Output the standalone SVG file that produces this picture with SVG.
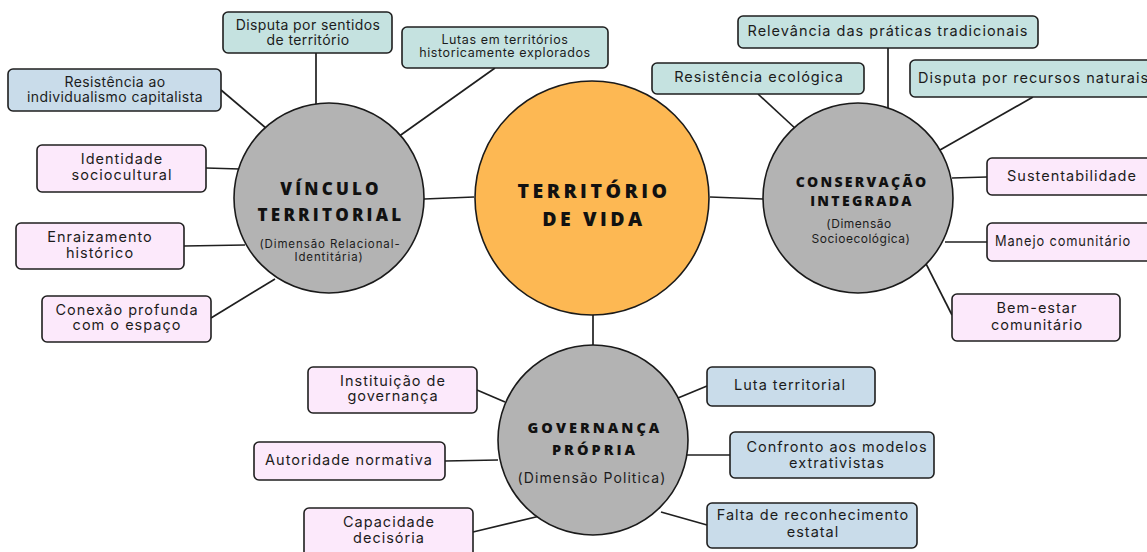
<svg xmlns="http://www.w3.org/2000/svg" width="1147" height="552" viewBox="0 0 1147 552">
<style>
.bg{fill:#ffffff}
.box{stroke:#1f1f1f;stroke-width:1.6}
.teal{fill:#c5e2e0}
.blue{fill:#c9dcea}
.pink{fill:#fce9fb}
.hub{fill:#b3b3b3;stroke:#1a1a1a;stroke-width:1.6}
.core{fill:#fdb853;stroke:#1a1a1a;stroke-width:1.6}
.t{font-family:Inter,"Open Sans",sans-serif;font-size:14.5px;fill:#1c1c1c;text-anchor:middle;letter-spacing:1px}
.n{font-size:14px;letter-spacing:0.4px}
.ts{font-size:12.5px;letter-spacing:0.6px}
.tl{text-anchor:start}
.h{font-family:"Open Sans",Lato,sans-serif;font-weight:800;fill:#111;text-anchor:middle}
.sub{font-family:Inter,"Open Sans",sans-serif;fill:#1c1c1c;text-anchor:middle}
#connectors line{stroke:#1f1f1f;stroke-width:1.7}
</style>
<rect class="bg" x="0" y="0" width="1147" height="552"/>
<g id="connectors">
<line x1="424" y1="199" x2="474" y2="197"/>
<line x1="710" y1="197" x2="763" y2="199"/>
<line x1="593" y1="313" x2="593" y2="345"/>
<line x1="316" y1="53" x2="316" y2="104"/>
<line x1="221" y1="90" x2="267" y2="129"/>
<line x1="495" y1="68" x2="398" y2="137"/>
<line x1="206" y1="168" x2="240" y2="169"/>
<line x1="184" y1="246" x2="245" y2="245"/>
<line x1="211" y1="318" x2="275" y2="279"/>
<line x1="888" y1="48" x2="888" y2="108"/>
<line x1="758" y1="94" x2="797" y2="130"/>
<line x1="1033" y1="97" x2="940" y2="150"/>
<line x1="952" y1="178" x2="987" y2="177"/>
<line x1="945" y1="242" x2="987" y2="242"/>
<line x1="918" y1="248" x2="952" y2="315"/>
<line x1="477" y1="390" x2="505" y2="402"/>
<line x1="445" y1="461" x2="498" y2="460"/>
<line x1="473" y1="532" x2="540" y2="516"/>
<line x1="678" y1="398" x2="707" y2="386"/>
<line x1="687" y1="455" x2="730" y2="455"/>
<line x1="661" y1="512" x2="707" y2="525"/>
</g>
<g id="territorio">
<circle class="core" cx="592" cy="198" r="117"/>
<text class="h" x="594" y="198" font-size="19.5" letter-spacing="3.5">TERRITÓRIO</text>
<text class="h" x="594" y="226" font-size="19.5" letter-spacing="3.5">DE VIDA</text>
</g>
<g id="vinculo">
<circle class="hub" cx="329" cy="198" r="95"/>
<text class="h" x="331" y="195" font-size="17" letter-spacing="3.2">VÍNCULO</text>
<text class="h" x="331" y="221" font-size="17" letter-spacing="3.2">TERRITORIAL</text>
<text class="sub" x="330" y="248" font-size="11.5" letter-spacing="0.9">(Dimensão Relacional-</text>
<text class="sub" x="329" y="261" font-size="11.5" letter-spacing="0.9">Identitária)</text>
</g>
<g id="conservacao">
<circle class="hub" cx="858" cy="198" r="95"/>
<text class="h" x="862" y="187" font-size="14" letter-spacing="2.3">CONSERVAÇÃO</text>
<text class="h" x="862" y="206" font-size="14" letter-spacing="2.3">INTEGRADA</text>
<text class="sub" x="859" y="228" font-size="12" letter-spacing="0.5">(Dimensão</text>
<text class="sub" x="861" y="243" font-size="12" letter-spacing="0.5">Socioecológica)</text>
</g>
<g id="governanca">
<circle class="hub" cx="593" cy="440" r="95"/>
<text class="h" x="595" y="433" font-size="14.5" letter-spacing="3">GOVERNANÇA</text>
<text class="h" x="595" y="455" font-size="14.5" letter-spacing="3">PRÓPRIA</text>
<text class="sub" x="592" y="483" font-size="14" letter-spacing="1.1">(Dimensão Politica)</text>
</g>
<g id="disputa-sentidos">
<rect class="box teal" x="223" y="12" width="169" height="41" rx="5"/>
<text class="t n" x="308" y="29.5">Disputa por sentidos</text>
<text class="t n" x="308" y="44.5">de território</text>
</g>
<g id="resistencia-individualismo">
<rect class="box blue" x="8" y="69" width="213" height="42" rx="5"/>
<text class="t n" x="115" y="86.5" font-size="13.5">Resistência ao</text>
<text class="t n" x="115" y="101.5" font-size="13.5">individualismo capitalista</text>
</g>
<g id="lutas-territorios">
<rect class="box teal" x="402" y="27" width="206" height="41" rx="5"/>
<text class="t ts" x="505" y="44">Lutas em territórios</text>
<text class="t ts" x="505" y="57">historicamente explorados</text>
</g>
<g id="identidade">
<rect class="box pink" x="37" y="145" width="169" height="47" rx="5"/>
<text class="t" x="122" y="164">Identidade</text>
<text class="t" x="122" y="180">sociocultural</text>
</g>
<g id="enraizamento">
<rect class="box pink" x="16" y="223" width="168" height="46" rx="5"/>
<text class="t" x="100" y="242">Enraizamento</text>
<text class="t" x="100" y="258">histórico</text>
</g>
<g id="conexao">
<rect class="box pink" x="42" y="296" width="169" height="46" rx="5"/>
<text class="t" x="127" y="315">Conexão profunda</text>
<text class="t" x="127" y="330">com o espaço</text>
</g>
<g id="relevancia">
<rect class="box teal" x="738" y="16" width="300" height="32" rx="5"/>
<text class="t" x="888" y="36" font-size="15.5" letter-spacing="0.85">Relevância das práticas tradicionais</text>
</g>
<g id="resistencia-ecologica">
<rect class="box teal" x="652" y="63" width="212" height="31" rx="5"/>
<text class="t" x="759" y="82" font-size="13" letter-spacing="0.5">Resistência ecológica</text>
</g>
<g id="disputa-recursos">
<rect class="box teal" x="910" y="60" width="245" height="37" rx="5"/>
<text class="t tl" x="918" y="83" font-size="15.5" letter-spacing="0.7">Disputa por recursos naturais</text>
</g>
<g id="sustentabilidade">
<rect class="box pink" x="987" y="158" width="168" height="37" rx="5"/>
<text class="t" x="1072" y="181" font-size="15">Sustentabilidade</text>
</g>
<g id="manejo">
<rect class="box pink" x="987" y="223" width="168" height="38" rx="5"/>
<text class="t tl" x="995" y="246" font-size="14" letter-spacing="0" textLength="136" lengthAdjust="spacingAndGlyphs">Manejo comunitário</text>
</g>
<g id="bem-estar">
<rect class="box pink" x="952" y="294" width="168" height="47" rx="5"/>
<text class="t" x="1037" y="313">Bem-estar</text>
<text class="t" x="1037" y="330">comunitário</text>
</g>
<g id="instituicao">
<rect class="box pink" x="308" y="367" width="169" height="46" rx="5"/>
<text class="t" x="393" y="386">Instituição de</text>
<text class="t" x="393" y="401">governança</text>
</g>
<g id="autoridade">
<rect class="box pink" x="254" y="442" width="191" height="38" rx="5"/>
<text class="t" x="349" y="465">Autoridade normativa</text>
</g>
<g id="capacidade">
<rect class="box pink" x="304" y="508" width="169" height="50" rx="5"/>
<text class="t" x="389" y="527">Capacidade</text>
<text class="t" x="389" y="543">decisória</text>
</g>
<g id="luta-territorial">
<rect class="box blue" x="707" y="367" width="168" height="39" rx="5"/>
<text class="t" x="790" y="390">Luta territorial</text>
</g>
<g id="confronto">
<rect class="box blue" x="730" y="432" width="204" height="46" rx="5"/>
<text class="t" x="837" y="452">Confronto aos modelos</text>
<text class="t" x="837" y="468">extrativistas</text>
</g>
<g id="falta">
<rect class="box blue" x="707" y="503" width="210" height="45" rx="5"/>
<text class="t" x="813" y="520">Falta de reconhecimento</text>
<text class="t" x="813" y="537">estatal</text>
</g>
</svg>
